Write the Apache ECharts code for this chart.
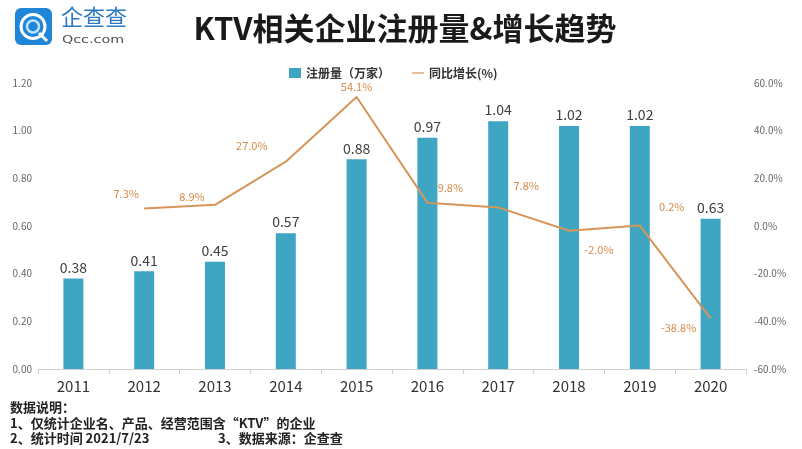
<!DOCTYPE html>
<html><head><meta charset="utf-8">
<script src="https://cdn.jsdelivr.net/npm/echarts@6/dist/echarts.min.js"></script>
<style>html,body{margin:0;padding:0;background:#fff}#c{width:802px;height:449px}</style>
</head><body><div id="c"></div>
<script>
const years = ['2011','2012','2013','2014','2015','2016','2017','2018','2019','2020'];
const registrations = [0.38,0.41,0.45,0.57,0.88,0.97,1.04,1.02,1.02,0.63];
const growth = [null,7.3,8.9,27.0,54.1,9.8,7.8,-2.0,0.2,-38.8];
const leftTicks = [0,0.2,0.4,0.6,0.8,1.0,1.2];
const rightTicks = [-60,-40,-20,0,20,40,60];
const notes = ['数据说明：','1、仅统计企业名、产品、经营范围含“KTV”的企业','2、统计时间 2021/7/23','3、数据来源：企查查'];

// label placement offsets (px) relative to each line point
const labelOffsets = [null,[-18,-15],[-23,-8],[-34,-16],[0,-10],[23,-15],[28,-22],[30,19],[32,-19],[-32,9]];

const chart = echarts.init(document.getElementById('c'));
const ff = '"Noto Sans CJK SC","Noto Sans",sans-serif';
const lineData = growth.map((v,i)=> v===null ? null : {value:v, label:{offset: labelOffsets[i]}});
chart.setOption({
  animation:false,
  textStyle:{fontFamily:ff},
  title:{text:'KTV相关企业注册量&增长趋势', left:400, textAlign:'center', top:8,
    textStyle:{fontSize:31, fontWeight:'bold', color:'#1a1a1a', fontFamily:ff}},
  legend:{top:62, left:284, itemWidth:12, itemHeight:10, itemGap:22,
    textStyle:{fontSize:12, color:'#333', fontWeight:'bold'},
    data:[{name:'注册量（万家）', icon:'rect'},{name:'同比增长(%)', icon:'path://M0,4L20,4L20,6L0,6Z'}]},
  grid:{left:38, right:56, top:83, bottom:80},
  xAxis:{type:'category', data:years,
    axisLine:{lineStyle:{color:'#d0d0d0'}},
    axisTick:{show:true, lineStyle:{color:'#d0d0d0'}, length:5},
    axisLabel:{fontSize:15, color:'#333', margin:10}},
  yAxis:[
    {type:'value', min:leftTicks[0], max:leftTicks[leftTicks.length-1], interval:0.2,
     splitLine:{show:false}, axisLine:{show:false}, axisTick:{show:false},
     axisLabel:{fontSize:10, color:'#666', formatter:v=>v.toFixed(2), margin:6}},
    {type:'value', min:rightTicks[0], max:rightTicks[rightTicks.length-1], interval:20,
     splitLine:{show:false}, axisLine:{show:false}, axisTick:{show:false},
     axisLabel:{fontSize:10, color:'#666', formatter:v=>v.toFixed(1)+'%', margin:8}}
  ],
  series:[
    {name:'注册量（万家）', type:'bar', data:registrations, barWidth:20,
     itemStyle:{color:'#3ea6c2'},
     label:{show:true, position:'top', fontSize:14, color:'#404040', formatter:p=>p.value.toFixed(2), distance:4}},
    {name:'同比增长(%)', type:'line', yAxisIndex:1, data:lineData, symbol:'circle', symbolSize:1, showSymbol:true,
     lineStyle:{color:'#d6955a', width:2}, itemStyle:{color:'#d6955a'},
     label:{show:true, position:'inside', align:'center', verticalAlign:'middle', fontSize:11, color:'#d38a48',
       formatter:p=>p.value.toFixed(1)+'%'}}
  ],
  graphic:[
    {type:'rect', left:15, top:8, shape:{width:37, height:37, r:6}, style:{fill:'#1f86d8'}},
    {type:'circle', shape:{cx:33, cy:26.5, r:12}, style:{fill:'none', stroke:'#fff', lineWidth:3}},
    {type:'circle', shape:{cx:33, cy:26.5, r:6}, style:{fill:'none', stroke:'#bfe3ff', lineWidth:2.5}},
    {type:'line', shape:{x1:39, y1:33, x2:47, y2:41}, style:{stroke:'#fff', lineWidth:3}},
    {type:'text', left:61, top:6, style:{text:'企查查', fontSize:22, fill:'#2d79c5', fontFamily:ff}},
    {type:'text', x:62, y:35, scaleX:1.3, style:{text:'Qcc.com', fontSize:11, fill:'#555', fontFamily:'"DejaVu Sans",sans-serif'}},
    {type:'text', left:10, top:401, style:{text:notes[0], fontSize:13, fontWeight:'bold', fill:'#222', fontFamily:ff}},
    {type:'text', left:10, top:417, style:{text:notes[1], fontSize:13, fontWeight:'bold', fill:'#222', fontFamily:ff}},
    {type:'text', left:10, top:432, style:{text:notes[2], fontSize:13, fontWeight:'bold', fill:'#222', fontFamily:ff}},
    {type:'text', left:218, top:432, style:{text:notes[3], fontSize:13, fontWeight:'bold', fill:'#222', fontFamily:ff}}
  ]
});
</script></body></html>
